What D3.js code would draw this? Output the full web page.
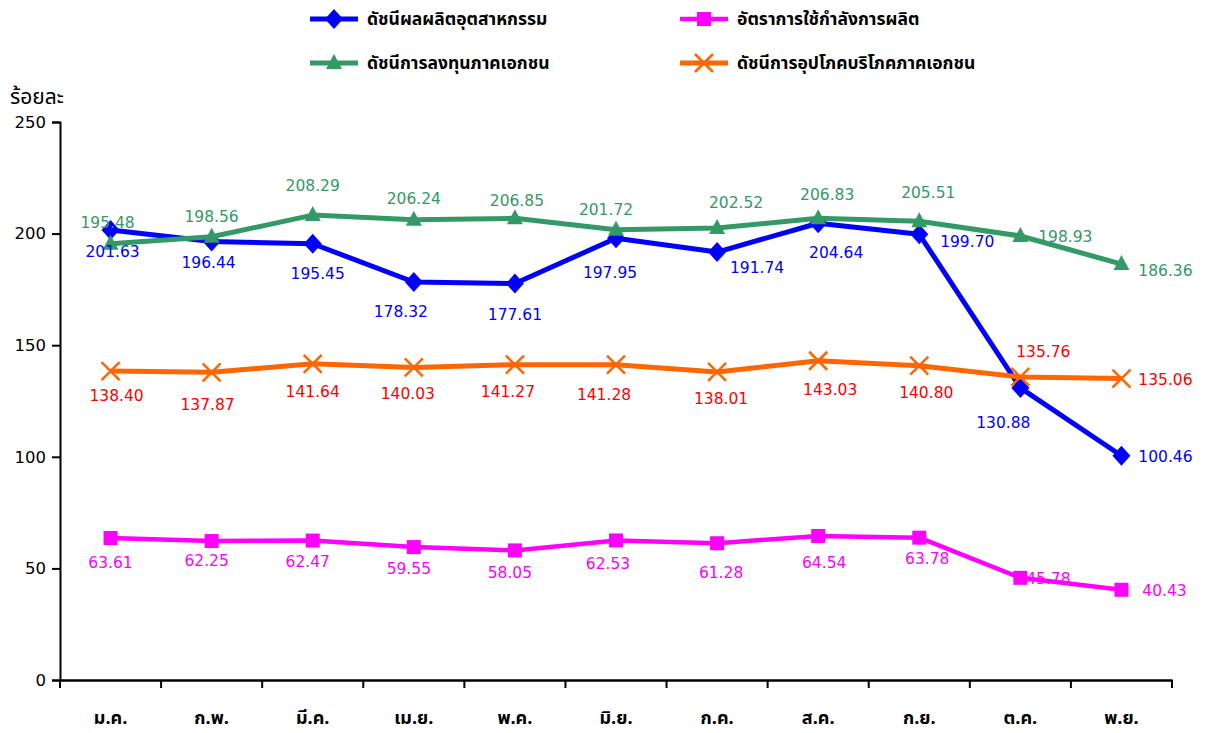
<!DOCTYPE html>
<html><head><meta charset="utf-8">
<script src="https://cdn.jsdelivr.net/npm/d3@7"></script>
<style>
html,body{margin:0;padding:0;background:#fff;}
svg{display:block;}
</style>
</head><body>
<svg id="chart" width="1208" height="733"></svg>
<script>
// ---- data ----
const categories = ["ม.ค.","ก.พ.","มี.ค.","เม.ย.","พ.ค.","มิ.ย.","ก.ค.","ส.ค.","ก.ย.","ต.ค.","พ.ย."];
const seriesNames = ["ดัชนีผลผลิตอุตสาหกรรม","อัตราการใช้กำลังการผลิต","ดัชนีการลงทุนภาคเอกชน","ดัชนีการอุปโภคบริโภคภาคเอกชน"];
const industrialIndex = [201.63,196.44,195.45,178.32,177.61,197.95,191.74,204.64,199.70,130.88,100.46];
const capacityUtil    = [63.61,62.25,62.47,59.55,58.05,62.53,61.28,64.54,63.78,45.78,40.43];
const investmentIndex = [195.48,198.56,208.29,206.24,206.85,201.72,202.52,206.83,205.51,198.93,186.36];
const consumptionIndex= [138.40,137.87,141.64,140.03,141.27,141.28,138.01,143.03,140.80,135.76,135.06];
const yTicks = [0,50,100,150,200,250];
const yTitle = "ร้อยละ";

// ---- label nudges (annotation layout, px) ----
const nudgeIndustrial = [[2,22],[-3,21],[5,30],[-13,30],[0,31],[-6,35],[40,16],[18,30],[48,8],[-17,35],[44,1]];
const nudgeCapacity   = [[0,25],[-5,20],[-5,21],[-5,22],[-5,23],[-8,24],[4,30],[6,27],[8,21],[28,1],[43,1]];
const nudgeInvestment = [[-3,-21],[0,-20],[0,-29],[0,-21],[2,-17],[-10,-20],[19,-25],[9,-23],[9,-28],[45,1],[44,7]];
const nudgeConsumption= [[6,25],[-4,33],[0,28],[-6,27],[-7,27],[-12,30],[4,27],[12,29],[7,27],[23,-25],[44,1]];

const svg = d3.select("#chart");
const plotLeft = 60, plotRight = 1172, plotTop = 122, plotBottom = 680;
const numFont = "'DejaVu Sans', Verdana, sans-serif";
const thaiFont = "'Noto Sans Thai','Noto Sans Thai Looped','Noto Sans', 'DejaVu Sans', sans-serif";

const x = d3.scaleBand().domain(categories).range([plotLeft, plotRight]);
const y = d3.scaleLinear().domain([0, 250]).range([plotBottom, plotTop]);

// y axis
const yAxis = svg.append("g").attr("transform", `translate(${plotLeft},0)`)
  .call(d3.axisLeft(y).tickValues(yTicks).tickSize(8).tickPadding(6));
yAxis.select(".domain").attr("stroke","#000").attr("stroke-width",2);
yAxis.selectAll(".tick line").attr("stroke","#000").attr("stroke-width",2);
yAxis.selectAll(".tick text").attr("font-family",numFont).attr("font-size",16.5).attr("fill","#000");

// x axis
const xAxis = svg.append("g").attr("transform", `translate(0,${plotBottom})`)
  .call(d3.axisBottom(x).tickSize(0).tickFormat(""));
xAxis.select(".domain").attr("stroke","#000").attr("stroke-width",2.5);
xAxis.selectAll(".tick").remove();
const bounds = categories.map(c => x(c)).concat([plotRight]);
svg.append("g").selectAll("line").data(bounds).join("line")
  .attr("x1", d => d).attr("x2", d => d).attr("y1", plotBottom).attr("y2", plotBottom + 8)
  .attr("stroke","#000").attr("stroke-width",2);
svg.append("g").selectAll("text").data(categories).join("text")
  .attr("x", d => x(d) + x.bandwidth()/2).attr("y", 718)
  .attr("text-anchor","middle").attr("dominant-baseline","central")
  .attr("font-family",thaiFont).attr("font-size",18).attr("font-weight","bold").attr("fill","#000")
  .text(d => d);

svg.append("text").attr("x",10).attr("y",97).attr("dominant-baseline","central")
  .attr("font-family",thaiFont).attr("font-size",21).attr("fill","#000").text(yTitle);

const cx = (i) => x(categories[i]) + x.bandwidth()/2;

const series = [
  {name:seriesNames[0], values:industrialIndex, color:"#0000FF", label:"#0000FF", marker:"diamond", width:5, nudge:nudgeIndustrial},
  {name:seriesNames[1], values:capacityUtil, color:"#FF00FF", label:"#FF00FF", marker:"square", width:4.5, nudge:nudgeCapacity},
  {name:seriesNames[2], values:investmentIndex, color:"#339966", label:"#339966", marker:"triangle", width:5, nudge:nudgeInvestment},
  {name:seriesNames[3], values:consumptionIndex, color:"#FF6600", label:"#FF0000", marker:"x", width:5, nudge:nudgeConsumption}
];

function drawMarker(g, type, px, py, color) {
  if (type === "diamond") {
    g.append("path").attr("d", `M${px},${py-10}L${px+9},${py}L${px},${py+10}L${px-9},${py}Z`).attr("fill", color);
  } else if (type === "square") {
    g.append("rect").attr("x", px-7).attr("y", py-7).attr("width",14).attr("height",14).attr("fill",color);
  } else if (type === "triangle") {
    g.append("path").attr("d", `M${px},${py-9}L${px+8},${py+6}L${px-8},${py+6}Z`).attr("fill",color);
  } else if (type === "x") {
    g.append("path").attr("d", `M${px-9},${py-9}L${px+9},${py+9}M${px+9},${py-9}L${px-9},${py+9}`)
      .attr("stroke",color).attr("stroke-width",2.5).attr("fill","none");
  }
}

const line = d3.line().x((d,i) => cx(i)).y(d => y(d));

series.forEach(s => {
  const g = svg.append("g");
  g.append("path").datum(s.values).attr("d", line).attr("fill","none")
    .attr("stroke", s.color).attr("stroke-width", s.width).attr("stroke-linejoin","round");
  s.values.forEach((v,i) => drawMarker(g, s.marker, cx(i), y(v), s.color));
});
series.forEach(s => {
  svg.append("g").selectAll("text").data(s.values).join("text")
    .attr("x", (d,i) => cx(i) + s.nudge[i][0])
    .attr("y", (d,i) => y(d) + s.nudge[i][1])
    .attr("text-anchor","middle").attr("dominant-baseline","central")
    .attr("font-family",numFont).attr("font-size",15.5).attr("fill",s.label)
    .text(d => d.toFixed(2));
});

// legend
const legendPos = [[310,19],[680,19],[310,63],[680,63]];
series.forEach((s,i) => {
  const [lx, ly] = legendPos[i];
  const g = svg.append("g");
  g.append("line").attr("x1",lx).attr("x2",lx+48).attr("y1",ly).attr("y2",ly)
    .attr("stroke",s.color).attr("stroke-width",s.width);
  drawMarker(g, s.marker, lx+24, ly, s.color);
  g.append("text").attr("x", lx+57).attr("y", ly).attr("dominant-baseline","central")
    .attr("font-family",thaiFont).attr("font-size",17.5).attr("font-weight","bold").attr("fill","#000").text(s.name);
});
</script>
</body></html>
